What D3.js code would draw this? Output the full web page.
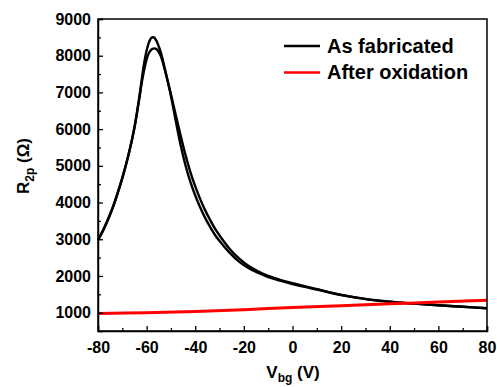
<!DOCTYPE html>
<html>
<head>
<meta charset="utf-8">
<script src="https://cdn.jsdelivr.net/npm/d3@7"></script>
<style>
  body { margin: 0; background: #fff; }
  text { font-family: "Liberation Sans", Arial, sans-serif; font-weight: bold; }
</style>
</head>
<body>
<div id="chart"></div>
<script>
// gate voltage grid for the two sweeps of the as-fabricated device
const vFab = [-80,-78,-76,-74,-72,-70,-68,-66,-65,-64,-63,-62,-61,-60,-59,-58,-57,-56,-55,-54,-52,-50,-48,-46,-44,-42,-40,-38,-36,-34,-32,-30,-26,-22,-18,-14,-10,-5,0,5,10,20,30,40,50,60,70,80];
const rFabUp = [2970,3220,3510,3840,4230,4660,5150,5720,6050,6450,6880,7360,7800,8140,8370,8490,8500,8410,8250,8050,7500,6900,6220,5560,5010,4560,4190,3870,3590,3350,3130,2950,2640,2390,2210,2080,1970,1870,1780,1700,1630,1480,1370,1295,1245,1200,1160,1120];
const rFabDown = [2990,3240,3530,3860,4250,4680,5160,5720,6040,6420,6830,7260,7620,7900,8080,8170,8200,8180,8100,7960,7480,6950,6380,5820,5290,4830,4440,4100,3800,3540,3300,3100,2750,2480,2270,2120,2000,1890,1800,1720,1640,1485,1375,1300,1245,1200,1160,1120];

const vOx = [-80,-60,-40,-20,0,20,40,60,80];
const rOx = [975,1000,1030,1080,1140,1190,1240,1290,1340];

const xTicks = [-80,-60,-40,-20,0,20,40,60,80];
const yTicks = [1000,2000,3000,4000,5000,6000,7000,8000,9000];

const legendNames = ["As fabricated", "After oxidation"];
const legendColors = ["#000", "#ff0000"];

const W = 497, H = 387;
const m = { left: 98, right: 487, top: 19, bottom: 331 };

const svg = d3.select('#chart').append('svg')
    .attr('width', W).attr('height', H);

const x = d3.scaleLinear().domain([-80, 80]).range([m.left, m.right]);
const y = d3.scaleLinear().domain([500, 9000]).range([m.bottom, m.top]);

const line = d3.line()
    .x(d => x(d[0]))
    .y(d => y(d[1]))
    .curve(d3.curveCatmullRom.alpha(0.5));

// curves
[rFabUp, rFabDown].forEach(r => {
  svg.append('path')
      .datum(vFab.map((v, i) => [v, r[i]]))
      .attr('d', line)
      .attr('fill', 'none')
      .attr('stroke', '#000')
      .attr('stroke-width', 2.4);
});

svg.append('path')
    .datum(vOx.map((v, i) => [v, rOx[i]]))
    .attr('d', line)
    .attr('fill', 'none')
    .attr('stroke', '#ff0000')
    .attr('stroke-width', 3);

// frame
svg.append('rect')
    .attr('x', m.left).attr('y', m.top)
    .attr('width', m.right - m.left).attr('height', m.bottom - m.top)
    .attr('fill', 'none')
    .attr('stroke', '#000')
    .attr('stroke-width', 1.5);

// plain hyphen minus, no thousands separator
const fmt = d => String(d);

// x axis (ticks pointing inward)
svg.append('g')
    .attr('transform', `translate(0,${m.bottom})`)
    .call(d3.axisBottom(x).tickValues(xTicks).tickSize(-5).tickPadding(11).tickFormat(fmt));
svg.append('g')
    .attr('transform', `translate(0,${m.bottom})`)
    .call(d3.axisBottom(x).tickValues(d3.range(-70, 80, 20)).tickSize(-3).tickFormat(''))
    .call(g => g.select('.domain').remove());

// y axis
svg.append('g')
    .attr('transform', `translate(${m.left},0)`)
    .call(d3.axisLeft(y).tickValues(yTicks).tickSize(-5).tickPadding(7).tickFormat(fmt));
svg.append('g')
    .attr('transform', `translate(${m.left},0)`)
    .call(d3.axisLeft(y).tickValues(d3.range(1500, 9000, 1000)).tickSize(-3).tickFormat(''))
    .call(g => g.select('.domain').remove());

svg.selectAll('.tick line').attr('stroke', '#000').attr('stroke-width', 1.3);
svg.selectAll('.domain').attr('stroke', '#000').attr('stroke-width', 1.5);
svg.selectAll('.tick text')
    .attr('fill', '#000')
    .style('font-size', '16px')
    .style('font-family', '"Liberation Sans", Arial, sans-serif')
    .style('font-weight', 'bold');

// axis titles
const yTitle = svg.append('text')
    .attr('transform', 'translate(29,166) rotate(-90)')
    .attr('text-anchor', 'middle')
    .style('font-size', '17px');
yTitle.append('tspan').text('R');
yTitle.append('tspan').attr('dy', 5).style('font-size', '12px').text('2p');
yTitle.append('tspan').attr('dy', -5).text(' (Ω)');

const xTitle = svg.append('text')
    .attr('x', 293).attr('y', 378)
    .attr('text-anchor', 'middle')
    .style('font-size', '17px');
xTitle.append('tspan').text('V');
xTitle.append('tspan').attr('dy', 4).style('font-size', '12px').text('bg');
xTitle.append('tspan').attr('dy', -4).text(' (V)');

// legend
const legend = svg.append('g');
legendNames.forEach((name, i) => {
  const ly = 46 + i * 26.5;
  legend.append('line')
      .attr('x1', 284).attr('x2', 320)
      .attr('y1', ly).attr('y2', ly)
      .attr('stroke', legendColors[i])
      .attr('stroke-width', 2.5);
  legend.append('text')
      .attr('x', 327).attr('y', ly + 6.5)
      .style('font-size', '20px')
      .text(name);
});
</script>
</body>
</html>
